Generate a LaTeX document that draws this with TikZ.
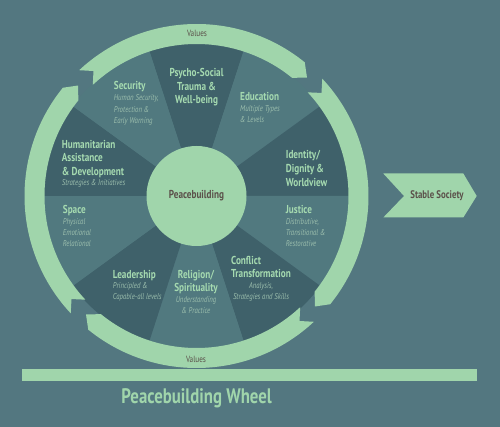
\documentclass[tikz,border=0pt]{standalone}
\usepackage{fontspec}
\newfontfamily\cf{PT Sans}[FakeStretch=0.8]
\definecolor{bg}{HTML}{537780}
\definecolor{dk}{HTML}{3F616A}
\definecolor{lt}{HTML}{51797F}
\definecolor{ring}{HTML}{A0D5AB}
\definecolor{tgreen}{HTML}{A5DAB0}
\definecolor{sgreen}{HTML}{9ABDAC}
\definecolor{dtext}{HTML}{5B504A}
\begin{document}
\begin{tikzpicture}[x=1pt,y=-1pt,
  ttl/.style={inner sep=0, text=tgreen, align=left, font=\cf\bfseries\fontsize{11.5}{13.7}\selectfont},
  sub/.style={inner sep=0, text=sgreen, align=left, font=\cf\itshape\fontsize{8.5}{11.3}\selectfont},
  vals/.style={inner sep=0, text=dtext, font=\cf\fontsize{9}{10}\selectfont},
  dark/.style={inner sep=0, text=dtext, font=\cf\bfseries\fontsize{11.5}{13.7}\selectfont}]
\fill[bg] (0,0) rectangle (500,427);
\useasboundingbox (0,0) rectangle (500,427);
% wheel
\begin{scope}[shift={(196.5,196)}, yscale=-1]
  \foreach \a/\c in {72/dk, 36/lt, 0/dk, -36/lt, -72/dk, -108/lt, -144/dk, -180/lt, 144/dk, 108/lt}
    \fill[\c] (0,0) -- (\a:153) arc[start angle=\a, delta angle=36, radius=153] -- cycle;
  \foreach \t/\h in {133/51, 43/-39, -47/-129, -137/-219}
    \fill[ring] (\t:172) arc[start angle=\t, end angle=\h, radius=172] -- ({\h-4}:162) -- (\h:152)
      arc[start angle=\h, end angle=\t, radius=152] -- ({\t-3.5}:162) -- cycle;
\end{scope}
\node[circle, fill=ring, minimum size=100pt, dark] (pb) at (196.5,196) {Peacebuilding};
% values
\node[vals] (v1) at (197,33) {Values};
\node[vals] (v2) at (196,359) {Values};
% sectors text
\node[ttl, align=center, anchor=north] (psy) at (196.5,68) {Psycho-Social\\Trauma \&\\Well-being};
\node[ttl, anchor=north west] (sect) at (113.7,81.5) {Security};
\node[sub, anchor=north west] (secs) at (113.7,94.5) {Human Security,\\Protection \&\\Early Warning};
\node[ttl, anchor=north west] (edut) at (240,92.5) {Education};
\node[sub, anchor=north west] (edus) at (240,105.4) {Multiple Types\\\& Levels};
\node[ttl, anchor=north west] (humt) at (61.7,139.8) {Humanitarian\\Assistance\\\& Development};
\node[sub, anchor=north west] (hums) at (61.7,179.7) {Strategies \& Initiatives};
\node[ttl, anchor=north west] (idt) at (285.7,150.5) {Identity/\\Dignity \&\\Worldview};
\node[ttl, anchor=north west] (spt) at (62.7,205.5) {Space};
\node[sub, anchor=north west] (sps) at (62.7,218.1) {Physical\\Emotional\\Relational};
\node[ttl, anchor=north west] (jut) at (285.7,205.5) {Justice};
\node[sub, anchor=north west] (jus) at (285.7,218.1) {Distributive,\\Transitional \&\\Restorative};
\node[ttl, anchor=north west] (let) at (112.7,269.8) {Leadership};
\node[sub, anchor=north west] (les) at (112.7,282.4) {Principled \&\\Capable-all levels};
\node[ttl, align=center, anchor=north] (ret) at (196,269.8) {Religion/\\Spirituality};
\node[sub, align=center, anchor=north] (res) at (196,296.4) {Understanding\\\& Practice};
\node[ttl, anchor=north west] (cot) at (231,255.8) {Conflict\\Transformation};
\node[sub, align=center, anchor=north] (cos) at (261,282.4) {Analysis,\\Strategies and Skills};
% stable society
\fill[ring] (383.3,173.5) -- (463.3,173.5) -- (476.7,196) -- (463.3,217.5) -- (383.3,217.5) -- (404,196) -- cycle;
\node[dark, font=\cf\bfseries\fontsize{11}{13}\selectfont] (ss) at (437,196) {Stable Society};
% bar and title
\fill[ring] (21.7,369.3) rectangle (476.7,381.3);
\node[inner sep=0, text=ring, font=\cf\bfseries\fontsize{21}{23}\selectfont] (title) at (196.7,398) {Peacebuilding Wheel};
\end{tikzpicture}
\end{document}
